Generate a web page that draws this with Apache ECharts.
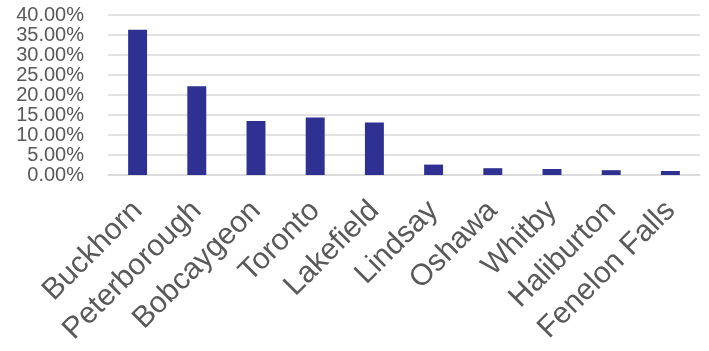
<!DOCTYPE html>
<html>
<head>
<meta charset="utf-8">
<script src="https://cdn.jsdelivr.net/npm/echarts@6/dist/echarts.min.js"></script>
<style>html,body{margin:0;padding:0;background:#fff;}#c{width:709px;height:351px;}</style>
</head>
<body>
<div id="c"></div>
<script>
var categories = ["Buckhorn","Peterborough","Bobcaygeon","Toronto","Lakefield","Lindsay","Oshawa","Whitby","Haliburton","Fenelon Falls"];
var values = [36.3, 22.2, 13.5, 14.4, 13.1, 2.6, 1.7, 1.5, 1.2, 1.0];
var yTicks = [0, 5, 10, 15, 20, 25, 30, 35, 40];

var chart = echarts.init(document.getElementById('c'));
chart.setOption({
  animation: false,
  grid: {left: 108, right: 9, top: 15, bottom: 176, containLabel: false},
  xAxis: {
    type: 'category',
    data: categories,
    axisLine: {show: true, lineStyle: {color: '#d9d9d9', width: 1.5}},
    axisTick: {show: false},
    axisLabel: {interval: 0, rotate: 45, fontFamily: 'Liberation Sans, Arial', fontSize: 30, color: '#595959', margin: 31}
  },
  yAxis: {
    type: 'value',
    min: yTicks[0], max: yTicks[yTicks.length - 1], interval: 5,
    axisLine: {show: false},
    axisTick: {show: false},
    splitLine: {lineStyle: {color: '#d9d9d9', width: 1.5}},
    axisLabel: {fontFamily: 'Liberation Sans, Arial', fontSize: 20, color: '#595959', margin: 24,
      formatter: function (v) { return v.toFixed(2) + '%'; }}
  },
  series: [{
    type: 'bar',
    data: values,
    barWidth: '32%',
    itemStyle: {color: '#2E3192'}
  }]
});
</script>
</body>
</html>
